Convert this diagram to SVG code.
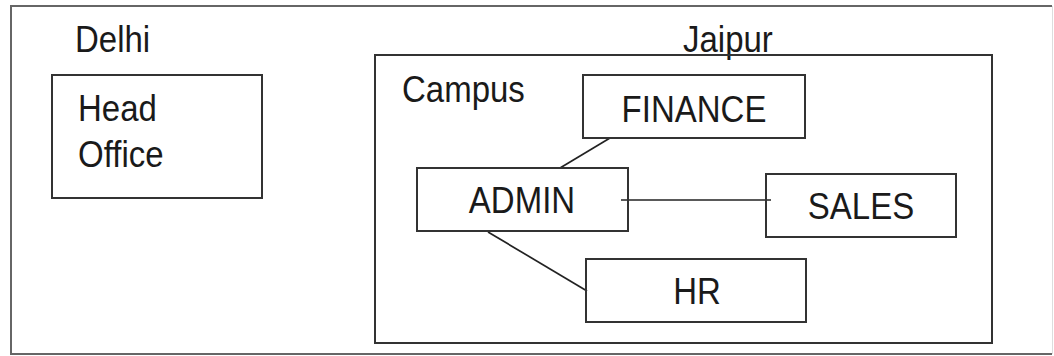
<svg xmlns="http://www.w3.org/2000/svg" width="1054" height="356" viewBox="0 0 1054 356">
<style>
.box{fill:none;stroke:#333;stroke-width:2}
.lbl{font-family:"Liberation Sans",Arial,sans-serif;font-size:33px;fill:#1a1a1a}
.ctr{text-anchor:middle}
.conn{stroke:#222;stroke-width:1.7;fill:none}
</style>
<rect x="0" y="0" width="1054" height="356" fill="#fff"/>
<g id="frame">
<path d="M1052,6 H11 V354 H1052" fill="none" stroke="#666" stroke-width="2"/>
<path d="M1052.5,6 V354" fill="none" stroke="#ddd" stroke-width="1"/>
</g>
<g id="delhi">
<text class="lbl" transform="translate(75,52) scale(1,1.12)">Delhi</text>
</g>
<g id="head-office">
<rect class="box" x="52" y="75" width="210" height="123"/>
<text class="lbl" transform="translate(78,121) scale(1,1.12)">Head</text>
<text class="lbl" transform="translate(78,167) scale(1,1.12)">Office</text>
</g>
<g id="jaipur">
<text class="lbl" transform="translate(683,52) scale(1,1.12)">Jaipur</text>
</g>
<g id="campus">
<rect class="box" x="375" y="55" width="617" height="288"/>
<text class="lbl" transform="translate(402,102) scale(1,1.12)">Campus</text>
</g>
<g id="connectors">
<line class="conn" x1="610" y1="138" x2="560" y2="168"/>
<line class="conn" x1="621" y1="200" x2="771" y2="200"/>
<line class="conn" x1="488" y1="232" x2="587" y2="291"/>
</g>
<g id="finance">
<rect class="box" x="583" y="75" width="222" height="63"/>
<text class="lbl ctr" transform="translate(694,122) scale(1,1.12)">FINANCE</text>
</g>
<g id="admin">
<rect class="box" x="417" y="168" width="211" height="63"/>
<text class="lbl ctr" transform="translate(522,213) scale(1,1.12)">ADMIN</text>
</g>
<g id="sales">
<rect class="box" x="766" y="174" width="190" height="63"/>
<text class="lbl ctr" transform="translate(861,219) scale(1,1.12)">SALES</text>
</g>
<g id="hr">
<rect class="box" x="586" y="259" width="220" height="63"/>
<text class="lbl ctr" transform="translate(697,304) scale(1,1.12)">HR</text>
</g>
</svg>
